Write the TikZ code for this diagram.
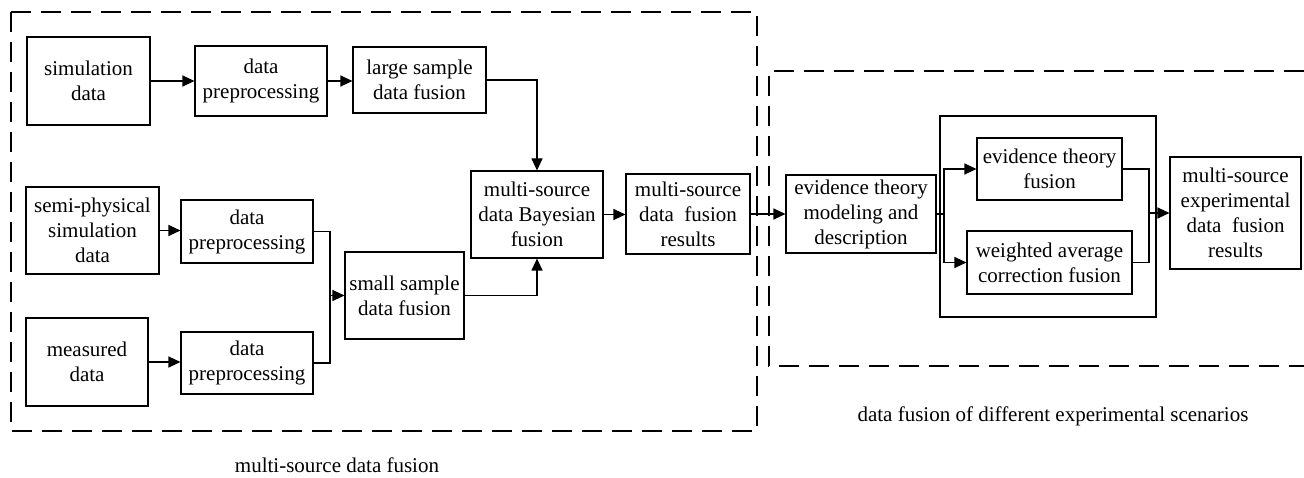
\documentclass[tikz,border=0pt]{standalone}
\usepackage{fontspec}
\setmainfont{Liberation Serif}
\usetikzlibrary{arrows.meta}
\begin{document}
\begin{tikzpicture}[x=1pt,y=-1pt,
 box/.style={draw,line width=1.1pt,rectangle,inner sep=0pt,align=center,font=\fontsize{21}{25}\selectfont},
 conn/.style={line width=1.1pt},
 arr/.style={conn,-{Triangle[length=12pt,width=11pt]}},
 region/.style={line width=1.1pt,dash pattern=on 20pt off 10pt},
 lbl/.style={font=\fontsize{21}{25}\selectfont,inner sep=0pt}]
\useasboundingbox (0,0) rectangle (1304,478);
% regions
\draw[region] (11,12) rectangle (757,431);
\draw[region] (1304,71) -- (769,71) -- (769,366) -- (1304,366);
% left part
\node[box,minimum width=123pt,minimum height=88pt] (sim) at (88.5,81) {simulation\\data};
\node[box,minimum width=132pt,minimum height=70pt] (dp1) at (261,81) {data\\preprocessing};
\node[box,minimum width=133pt,minimum height=66pt] (large) at (419.5,80) {large sample\\data fusion};
\node[box,minimum width=133pt,minimum height=87pt] (semi) at (92.5,230.5) {semi-physical\\simulation\\data};
\node[box,minimum width=132pt,minimum height=63pt] (dp2) at (247,231.5) {data\\preprocessing};
\node[box,minimum width=122pt,minimum height=88pt] (meas) at (87,362) {measured\\data};
\node[box,minimum width=132pt,minimum height=62pt] (dp3) at (247,363) {data\\preprocessing};
\node[box,minimum width=119pt,minimum height=87pt] (small) at (404.5,295.5) {small sample\\data fusion};
\node[box,minimum width=132pt,minimum height=87pt] (bayes) at (537,214.5) {multi-source\\data Bayesian\\fusion};
\node[box,minimum width=124pt,minimum height=80pt] (res) at (688,214) {multi-source\\data\ \ fusion\\results};
% right part
\node[box,minimum width=150pt,minimum height=78pt] (evm) at (861,214) {evidence theory\\modeling and\\description};
\node[box,minimum width=216pt,minimum height=201pt] (grp) at (1048,216.5) {};
\node[box,minimum width=145pt,minimum height=62pt] (etf) at (1049.5,169) {evidence theory\\fusion};
\node[box,minimum width=165pt,minimum height=63pt] (wav) at (1049.5,262.5) {weighted average\\correction fusion};
\node[box,minimum width=131pt,minimum height=112pt] (mser) at (1235.5,213) {multi-source\\experimental\\data\ \ fusion\\results};
% junctions
\coordinate (j1) at (330,295.5);
\coordinate (split) at (944,214);
\coordinate (merge) at (1149,213);
% connectors
\draw[arr] (sim.east) -- (sim.east -| dp1.west);
\draw[arr] (dp1.east) -- (dp1.east -| large.west);
\draw[arr] (large.east) -| (bayes.north);
\draw[arr] (semi.east) -- (semi.east -| dp2.west);
\draw[arr] (meas.east) -- (meas.east -| dp3.west);
\draw[conn] (dp2.east) -| (j1);
\draw[conn] (dp3.east) -| (j1);
\draw[arr] (j1) -- (small.west);
\draw[arr] (small.east) -| (bayes.south);
\draw[arr] (bayes.east) -- (bayes.east -| res.west);
\draw[arr] (res.east) -- (res.east -| evm.west);
\draw[conn] (evm.east) -- (split);
\draw[arr] (split) |- (etf.west);
\draw[arr] (split) |- (wav.west);
\draw[conn] (etf.east) -| (merge);
\draw[conn] (wav.east) -| (merge);
\draw[arr] (merge) -- (merge -| mser.west);
% labels
\node[lbl] (l1) at (337,465) {multi-source data fusion};
\node[lbl] (l2) at (1053,416) {data fusion of different experimental scenarios};
\end{tikzpicture}
\end{document}
